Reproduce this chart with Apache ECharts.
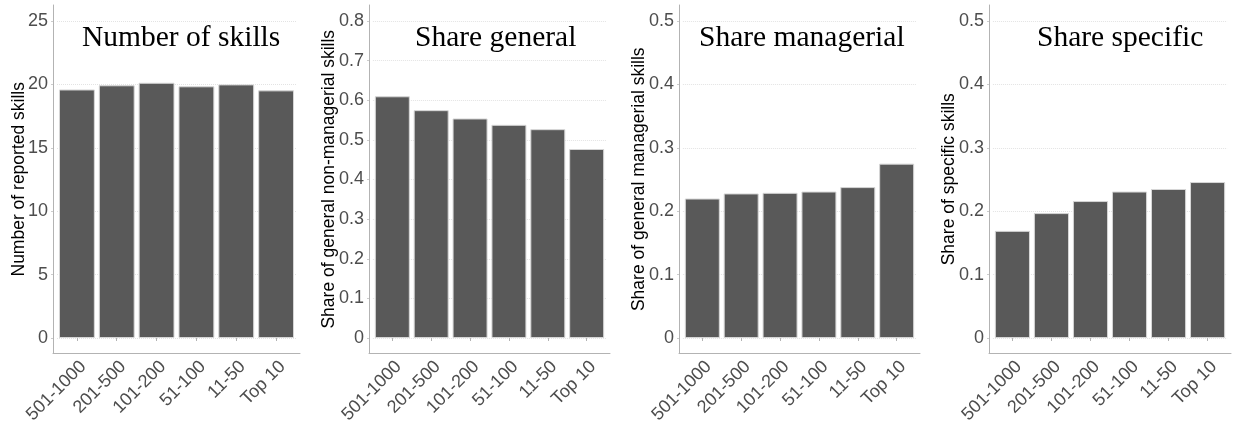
<!DOCTYPE html>
<html>
<head>
<meta charset="utf-8">
<script src="https://cdn.jsdelivr.net/npm/echarts@6/dist/echarts.min.js"></script>
<style>
html,body{margin:0;padding:0;background:#fff;}
#chart{width:1237px;height:423px;}
</style>
</head>
<body>
<div id="chart"></div>
<script>
// ---- data ----
const categories = ['501-1000', '201-500', '101-200', '51-100', '11-50', 'Top 10'];
const numberOfSkills = [19.6, 19.93, 20.13, 19.85, 20.0, 19.53];
const shareGeneral = [0.61, 0.575, 0.554, 0.538, 0.527, 0.477];
const shareManagerial = [0.22, 0.228, 0.229, 0.231, 0.238, 0.275];
const shareSpecific = [0.169, 0.197, 0.216, 0.231, 0.235, 0.246];

const panelTitles = ['Number of skills', 'Share general', 'Share managerial', 'Share specific'];
const axisTitles = ['Number of reported skills', 'Share of general non-managerial skills',
  'Share of general managerial skills', 'Share of specific skills'];
const yMax = [25, 0.8, 0.5, 0.5];
const yStep = [5, 0.1, 0.1, 0.1];
const seriesData = [numberOfSkills, shareGeneral, shareManagerial, shareSpecific];

// ---- layout ----
const layout = [
  { l: 53, r: 300, titleX: 82, nameGap: 25 },
  { l: 369, r: 610, titleX: 415, nameGap: 31 },
  { l: 679, r: 920, titleX: 699, nameGap: 31 },
  { l: 989, r: 1231, titleX: 1037, nameGap: 31 }
];
const frameTop = 5, frameBottom = 353.5, zeroY = 338, topTickY = 21;
const sans = 'Liberation Sans, Arial, sans-serif';
const serif = 'Liberation Serif, Times New Roman, serif';
const lineColor = '#b3b3b3';

const grids = [], xAxes = [], yAxes = [], series = [], titles = [];
layout.forEach((p, i) => {
  const w = (p.r - p.l) / 6.2;
  const inset = 0.1 * w;
  // frame grid (axis lines only)
  grids.push({ left: p.l, top: frameTop, width: p.r - p.l, height: frameBottom - frameTop,
    containLabel: false, outerBoundsMode: 'none' });
  // inner grid (bars, labels)
  grids.push({ left: p.l + inset, top: topTickY, width: 6 * w, height: zeroY - topTickY,
    containLabel: false, outerBoundsMode: 'none' });

  xAxes.push({ gridIndex: 2 * i, type: 'value', min: 0, max: 1,
    axisLine: { show: true, onZero: false, lineStyle: { color: lineColor, width: 1 } },
    axisTick: { show: false }, axisLabel: { show: false }, splitLine: { show: false } });
  yAxes.push({ gridIndex: 2 * i, type: 'value', min: 0, max: 1,
    name: axisTitles[i], nameLocation: 'middle', nameRotate: 90, nameGap: p.nameGap,
    nameTextStyle: { fontFamily: sans, fontSize: 17.5, color: '#000' },
    axisLine: { show: true, onZero: false, lineStyle: { color: lineColor, width: 1 } },
    axisTick: { show: false }, axisLabel: { show: false }, splitLine: { show: false } });

  xAxes.push({ gridIndex: 2 * i + 1, type: 'category', data: categories,
    offset: frameBottom - zeroY,
    axisLine: { show: false },
    axisTick: { show: true, alignWithLabel: true, length: 3, lineStyle: { color: lineColor } },
    axisLabel: { rotate: 45, margin: 4, verticalAlign: 'top', fontFamily: sans, fontSize: 18, color: '#4d4d4d' },
    splitLine: { show: false } });
  yAxes.push({ gridIndex: 2 * i + 1, type: 'value', min: 0, max: yMax[i], interval: yStep[i],
    offset: inset,
    axisLine: { show: false },
    axisTick: { show: true, length: 2, lineStyle: { color: '#cccccc' } },
    axisLabel: { margin: 5, fontFamily: sans, fontSize: 18, color: '#4d4d4d' },
    splitLine: { show: true, lineStyle: { color: '#e3e3e3', type: 'dotted', width: 1 } } });

  series.push({ type: 'bar', xAxisIndex: 2 * i + 1, yAxisIndex: 2 * i + 1,
    data: seriesData[i], barWidth: '90%',
    itemStyle: { color: '#595959', borderColor: '#d6d6d6', borderWidth: 1 },
    silent: true, animation: false });

  titles.push({ text: panelTitles[i], left: p.titleX, top: 23, padding: 0,
    textStyle: { fontFamily: serif, fontSize: 29.5, fontWeight: 'normal', color: '#000' } });
});

const chart = echarts.init(document.getElementById('chart'), null, { renderer: 'canvas' });
chart.setOption({
  animation: false,
  backgroundColor: '#fff',
  title: titles,
  grid: grids,
  xAxis: xAxes,
  yAxis: yAxes,
  series: series
});
</script>
</body>
</html>
